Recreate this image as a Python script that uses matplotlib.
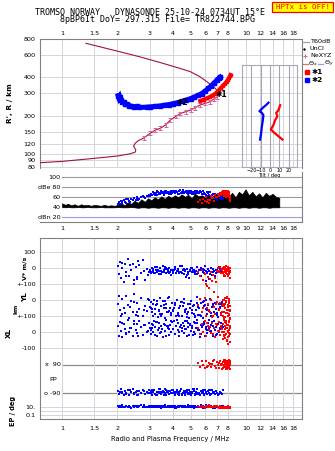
import matplotlib
matplotlib.use("Agg")
import matplotlib.pyplot as plt
import numpy as np
from matplotlib.lines import Line2D
from matplotlib.patches import Rectangle
from matplotlib.ticker import FixedLocator, NullLocator, FixedFormatter

# --- axis ticks ------------------------------------------------------------
freq_ticks = [1, 1.5, 2, 3, 4, 5, 6, 7, 8, 10, 12, 14, 16, 18]
freq_labels = ["1", "1.5", "2", "3", "4", "5", "6", "7", "8",
               "10", "12", "14", "16", "18"]
amp_freq_ticks = [1, 1.5, 2, 3, 4, 5, 6, 7, 8, 9, 10, 12, 14, 16, 18]
amp_freq_labels = ["1", "1.5", "2", "3", "4", "5", "6", "7", "8", "9",
                   "10", "12", "14", "16", "18"]
range_ticks = [80, 90, 100, 120, 150, 200, 300, 400, 600, 800]
amp_ticks = [100, 80, 60, 40, 20]
amp_labels = ["100", "dBe 80", "60", "40", "dBn 20"]
tilt_ticks = [-20, -10, 0, 10, 20]

# --- electron density profile (plasma freq MHz, true height km) ------------
prof_f = [0.76, 1.0, 1.5, 2.0, 2.35, 2.5, 2.52, 2.45, 2.5, 2.6, 2.78, 3.02,
          3.22, 3.43, 3.66, 3.89, 4.41, 5.0, 5.63, 6.39, 7.0, 7.1,
          7.05, 6.81, 6.39, 5.63, 4.97, 4.38, 3.41, 2.65, 2.07, 1.61, 1.35]
prof_h = [86, 88, 93, 97, 101, 104, 108, 116, 122, 128, 134, 146,
          155, 160, 170, 186, 209, 222, 243, 258, 283, 302,
          308, 329, 355, 405, 445, 471, 524, 580, 635, 695, 740]
err_f = [2.78, 3.02, 3.22, 3.43, 3.66, 3.89, 4.15, 4.41, 4.7, 5.0, 5.3,
         5.63, 6.0, 6.39, 6.7, 7.0]
err_h = [134, 146, 155, 160, 170, 186, 198, 209, 215, 222, 232,
         243, 250, 258, 270, 283]

# --- virtual height traces -------------------------------------------------
trace_o_f = [2.02, 2.04, 2.06, 2.09, 2.12, 2.16, 2.20, 2.25, 2.31, 2.38, 2.46,
             2.55, 2.62, 2.90, 3.00, 3.20, 3.40, 3.60, 3.80, 4.00, 4.25, 4.50,
             4.75, 5.00, 5.25, 5.50, 5.75, 6.00, 6.25, 6.50, 6.75, 7.00, 7.15,
             7.25]
trace_o_h = [288, 276, 283, 266, 259, 255, 250, 246, 241, 238, 236,
             237, 233, 234, 235, 237, 239, 242, 245, 249, 254, 260,
             266, 273, 281, 289, 299, 312, 328, 344, 364, 385, 395,
             402]
trace_x_f = [5.65, 5.90, 6.15, 6.40, 6.65, 6.90, 7.10, 7.30, 7.50, 7.70, 7.85,
             8.00, 8.10, 8.20, 8.25]
trace_x_h = [262, 268, 275, 282, 291, 302, 315, 330, 345, 358, 370,
             385, 398, 410, 418]

# --- tilt (deg) versus height ----------------------------------------------
tilt_o_deg = [-1.8, -4.5, -7.2, -11.5, -8.9, -7.2, -7.8, -8.9, -9.7, -10.8]
tilt_o_h = [254, 243, 234, 218, 212, 203, 186, 165, 146, 131]
tilt_x_deg = [10.8, 8.9, 6.5, 7.8, 5.4, 3.5, 0.8, 5.4, 10.0, 13.2]
tilt_x_h = [243, 222, 212, 199, 186, 170, 157, 146, 137, 131]

# --- receiver amplitude envelope (dB) ---------------------------------------
noise_f = [1.00, 1.04, 1.08, 1.12, 1.17, 1.22, 1.27, 1.32, 1.38, 1.44, 1.50,
           1.56, 1.63, 1.70, 1.77, 1.85, 1.93, 2.01, 2.10, 2.19, 2.28, 2.38,
           2.48, 2.59, 2.70, 2.82, 2.94, 3.06, 3.19, 3.33, 3.47, 3.62, 3.78,
           3.94, 4.11, 4.29, 4.47, 4.66, 4.86, 5.07, 5.29, 5.52, 5.76, 6.01,
           6.27, 6.54, 6.82, 7.11, 7.42, 7.74, 8.07, 8.42, 8.78, 9.16, 9.55,
           9.96, 10.39, 10.84, 11.31, 11.80, 12.31, 12.84, 13.39, 13.97, 14.57, 15.20]
noise_hi = [48, 45, 47, 44, 46, 43, 46, 44, 45, 43, 45,
            44, 43, 45, 43, 44, 43, 45, 48, 44, 50, 47,
            53, 49, 56, 51, 58, 54, 60, 56, 62, 57, 63,
            59, 64, 60, 66, 61, 65, 58, 67, 62, 64, 60,
            66, 61, 68, 63, 70, 65, 62, 69, 60, 71, 66,
            76, 64, 71, 62, 68, 60, 69, 63, 67, 61, 59]
noise_lo = [41, 40, 41, 40, 40, 41, 40, 40, 41, 40, 40,
            40, 41, 40, 40, 40, 40, 41, 40, 40, 40, 41,
            40, 39, 40, 40, 39, 40, 40, 39, 40, 40, 39,
            40, 40, 39, 40, 40, 39, 40, 40, 39, 40, 40,
            39, 40, 40, 39, 40, 40, 39, 40, 40, 39, 40,
            40, 39, 40, 40, 39, 40, 40, 39, 40, 40, 40]

# --- o-mode echoes (*2) ------------------------------------------------------
blue_f = [2.02, 2.04, 2.07, 2.10, 2.13, 2.16, 2.20, 2.24, 2.28, 2.32,
          2.37, 2.42, 2.47, 2.52, 2.57, 2.63, 2.69, 2.75, 2.82, 2.89,
          2.96, 3.02, 3.06, 3.10, 3.14, 3.18, 3.22, 3.27, 3.31, 3.36,
          3.40, 3.45, 3.50, 3.55, 3.60, 3.65, 3.70, 3.76, 3.81, 3.87,
          3.93, 3.98, 4.04, 4.10, 4.16, 4.22, 4.29, 4.35, 4.42, 4.48,
          4.55, 4.62, 4.69, 4.76, 4.83, 4.90, 4.97, 5.05, 5.12, 5.20,
          5.28, 5.36, 5.44, 5.52, 5.60, 5.69, 5.77, 5.86, 5.95, 6.04,
          6.13, 6.22, 6.31, 6.41, 6.50, 6.60, 6.70, 6.80, 6.90, 7.00,
          7.11, 7.21, 7.32, 7.43,
          3.04, 3.12, 3.20, 3.29, 3.38, 3.47, 3.57, 3.67, 3.78, 3.90,
          4.01, 4.13, 4.25, 4.38, 4.51, 4.65, 4.79, 4.94, 5.08, 5.24,
          5.40, 5.56, 5.73, 5.90, 6.08, 6.27, 6.45, 6.65, 6.85, 7.05,
          7.26, 7.48, 2.12, 2.22, 2.34, 2.45, 2.60, 2.78, 2.92, 3.08,
          3.24, 3.43, 3.62, 3.84, 4.07, 4.32, 4.58, 4.86, 5.16, 5.48,
          5.82, 6.17, 6.55, 6.95, 7.37, 4.70, 5.30, 6.00, 3.73, 2.55]
blue_v = [12, -35, 40, -60, 5, -85, 25, -20, 60, -45,
          -10, 30, -95, 8, -55, 18, -30, 50, -70, -5,
          -25, -12, -28, 5, -18, -30, 10, -22, -8, -35,
          0, -15, -26, 14, -20, -5, -32, -12, 3, -24,
          -40, -10, -18, 8, -30, -14, -2, -27, -20, 16,
          -9, -33, -16, -4, -25, -60, -12, 0, -21, -8,
          -38, -17, 6, -28, -13, -45, -3, -22, -10, -80,
          -30, -6, -19, -35, 2, -26, -15, -50, -9, -24,
          10, -18, -32, -5,
          -20, -5, -30, 8, -15, -38, -10, 2, -25, -12,
          -32, -6, -18, 12, -28, -9, -42, -16, 4, -22,
          -34, -11, -1, -27, -14, -65, -20, -7, -30, -17,
          -3, -24, 35, -50, 20, -75, 45, -15, -40, -26,
          -8, -19, 7, -31, -13, -23, -2, -36, -11, -29,
          -5, -21, -40, -9, -14, -55, -26, 15, -4, -65]
blue_yl = [-20, 30, -60, -100, 10, -45, -80, 25, -30, -110,
           -5, -70, 40, -90, -15, -55, 15, -100, -35, -65,
           5, -40, -10, -75, -95, 5, -55, -25, -105, -60,
           15, -35, -85, -5, -50, -110, -20, -70, 20, -45,
           -90, -15, -65, -30, -100, 0, -80, -50, -12, -95,
           -38, 10, -60, -88, -22, -112, -48, -6, -78, -30,
           -102, -58, 18, -42, -92, -18, -70, -108, -2, -52,
           -85, -28, -64, 8, -98, -36, -75, -15, -55, -90,
           -25, -45, -80, -10,
           -50, -20, -85, -5, -65, -100, -30, -45, 12, -78,
           -58, -18, -92, -38, -8, -70, -105, -26, -60, -88,
           -14, -48, -96, -34, 2, -68, -82, -22, -56, -104,
           -40, -74, -85, 25, -40, -10, -95, -60, 10, -52,
           -28, -86, -4, -66, -46, -100, -18, -72, -36, -90,
           -10, -62, -44, -80, -20, -55, -95, -32, -70, -75]
blue_xl = [40, -20, 65, 10, -30, 50, 20, -10, 75, 0,
           30, -25, 55, 15, -5, 70, 35, -15, 45, 5,
           60, 25, -10, 50, 5, 70, 35, -20, 15, 60,
           -5, 40, 20, -28, 55, 10, 75, 30, -15, 45,
           0, 65, 22, -8, 38, 80, 12, -25, 48, 28,
           58, -2, 18, 70, 33, -18, 52, 8, 42, 62,
           -12, 26, 74, 14, -30, 46, 36, 2, 66, 20,
           -6, 56, 30, 10, 44, -22, 68, 16, 34, 50,
           0, 24, 60, 40,
           15, 45, -15, 62, 30, 5, 52, -20, 38, 72,
           20, -8, 56, 34, 10, 68, -24, 44, 26, 4,
           60, 16, -12, 50, 32, 78, 8, 40, -18, 54,
           22, 36, 60, -5, 25, 70, -20, 45, 10, 30,
           64, -4, 46, 18, 72, 2, 38, 56, -14, 28,
           48, 12, 66, -10, 34, 20, 58, -26, 42, 50]
blue_pp = [-75, -95, -82, -66, -90, -100, -78, -88, -70, -98,
           -84, -64, -93, -80, -101, -74, -89, -68, -96, -83,
           -72, -86, -76, -98, -82, -68, -92, -101, -79, -88,
           -65, -95, -84, -73, -100, -90, -70, -83, -97, -77,
           -91, -67, -87, -99, -81, -71, -94, -85, -63, -96,
           -89, -76, -102, -83, -92, -69, -80, -98, -87, -74,
           -94, -84, -66, -90, -100, -78, -88, -72, -95, -82,
           -92, -75, -86, -99, -69, -89, -81, -96, -73, -87,
           -93, -79, -85, -97,
           -88, -72, -97, -80, -66, -93, -84, -100, -75, -90,
           -68, -95, -82, -77, -99, -86, -70, -92, -79, -64,
           -96, -85, -73, -101, -88, -69, -94, -81, -76, -98,
           -87, -71, -80, -95, -67, -90, -102, -76, -85, -70,
           -98, -83, -66, -92, -79, -100, -74, -89, -63, -94,
           -81, -97, -72, -86, -91, -78, -99, -68, -84, -73]
blue_ep = [12, 8, 15, 10, 20, 7, 11, 14, 9, 18,
           6, 13, 10, 16, 8, 12, 22, 9, 11, 7,
           14, 10, 13, 8, 16, 11, 7, 19, 12, 9,
           14, 6, 11, 15, 8, 21, 10, 13, 7, 12,
           17, 9, 11, 14, 6, 10, 18, 8, 12, 15,
           9, 13, 7, 11, 20, 10, 8, 14, 12, 6,
           16, 9, 11, 13, 8, 24, 10, 12, 7, 15,
           11, 9, 14, 8, 12, 10, 17, 6, 11, 13,
           9, 10, 7, 12,
           11, 8, 14, 9, 17, 12, 7, 10, 15, 9,
           13, 6, 11, 19, 8, 12, 10, 16, 7, 13,
           9, 11, 14, 8, 22, 10, 12, 6, 15, 9,
           11, 13, 10, 16, 7, 12, 9, 20, 8, 11,
           14, 7, 12, 9, 18, 10, 13, 8, 11, 15,
           6, 12, 9, 14, 10, 8, 17, 11, 7, 12]
blue_amp = [46, 50, 47, 53, 49, 55, 51, 48, 57, 52,
            56, 54, 59, 55, 61, 57, 60, 63, 58, 62,
            64, 63, 67, 65, 70, 66, 68, 64, 71, 67,
            69, 72, 68, 70, 66, 73, 69, 71, 67, 70,
            72, 68, 71, 69, 73, 70, 66, 72, 69, 71,
            74, 68, 70, 73, 67, 71, 69, 72, 66, 70,
            73, 69, 71, 68, 72, 70, 67, 73, 69, 65,
            71, 68, 64, 70, 62, 67, 58, 66, 61, 55,
            63, 60, 57, 62,
            66, 70, 64, 72, 68, 71, 65, 73, 69, 67,
            72, 70, 66, 74, 69, 71, 68, 73, 70, 66,
            72, 69, 71, 67, 64, 70, 60, 66, 58, 62,
            59, 56, 52, 56, 50, 58, 54, 60, 62, 65,
            69, 67, 71, 68, 72, 66, 70, 73, 68, 71,
            67, 63, 65, 60, 61, 72, 70, 66, 69, 59]

# --- x-mode echoes (*1) ------------------------------------------------------
red_f = [5.52, 5.62, 5.75, 5.85, 5.98, 6.08, 6.20, 6.32, 6.45, 6.58, 6.70, 6.82, 6.95,
         7.05, 7.15, 7.25, 7.35, 7.45, 7.52, 7.58, 7.60, 7.66, 7.70, 7.72, 7.78, 7.84,
         7.88, 7.90, 7.95, 8.00, 8.02, 8.05, 8.10, 8.14, 8.18, 8.22,
         7.40, 7.48, 7.55, 7.62, 7.68, 7.74, 7.80, 7.86, 7.92, 7.97, 8.04, 8.08,
         8.12, 8.16, 8.20, 8.24, 6.15, 6.40, 6.62, 6.88, 7.10, 7.30, 7.64, 7.82]
red_v = [-20, -45, -10, -70, -35, -95, -55, -125, -25, -80, -145, -60, -15,
         5, -15, 10, -30, -5, -20, 8, -40, -12, 0, -25, -8, 12,
         -35, -18, -3, -50, -10, 4, -22, -28, -60, 2,
         -10, 3, -28, -6, -45, 10, -18, -2, -33, 6, -14, -38,
         -7, -24, 0, -16, -110, -65, -40, -85, -20, -8, -50, -30]
red_yl = [-30, 10, -75, -50, 15, -95, -20, -60, 5, -105, -40, -85, -10,
          20, -55, -15, -90, -35, 0, -70, -110, -25, 12, -48, -80, -5,
          -62, 18, -100, -28, -42, 8, -88, -18, -58, -112,
          -70, -20, -95, 5, -45, -105, -12, -80, 15, -58, -30, -92,
          -2, -66, -115, -38, -50, -75, -100, -20, -60, -85, -35, -10]
red_xl = [30, -10, 55, 5, 70, -25, 40, 15, -5, 60, 25, -30, 45,
          10, 65, -15, 35, 0, 50, -20, 75, 20, -35, 42, -8, 58,
          -45, 28, 5, -70, 48, -22, 15, 62, -12, 36,
          20, -40, 50, 0, 65, -15, 30, -55, 45, 10, -28, 70,
          -5, 38, -62, 24, 60, 35, -10, 50, 8, 42, -18, 68]
red_pp = [100, 80, 112, 92, 70, 118, 86, 104, 76, 96, 122, 84, 108,
          90, 74, 114, 98, 66, 106, 88, 120, 94, 78, 102, 68, 110,
          86, 116, 92, 72, 104, 82, 124, 96, 64, 100,
          98, 70, 110, 86, 122, 76, 104, 92, 66, 116, 84, 100,
          74, 112, 90, 106, 80, 94, 118, 72, 102, 88, 108, 78]
red_ep = [12, 8, 18, 10, 6, 15, 9, 22, 11, 7, 14, 9, 17,
          10, 6, 13, 8, 5, 9, 7, 11, 6, 8, 4.5, 9, 7,
          5, 8, 6, 10, 4, 7, 5, 9, 6, 4,
          6, 9, 5, 8, 4, 7, 10, 5, 6, 12, 4.5, 8,
          5, 7, 4, 9, 14, 10, 8, 12, 9, 6, 7, 5]
red_amp = [50, 54, 48, 57, 52, 60, 55, 49, 62, 58, 53, 64, 60,
           66, 62, 69, 64, 71, 67, 63, 70, 72, 65, 68, 61, 71,
           66, 70, 63, 72, 67, 60, 69, 64, 52, 58,
           70, 66, 72, 68, 64, 71, 67, 73, 65, 69, 62, 70,
           66, 60, 63, 56, 50, 55, 58, 61, 64, 67, 71, 69]

BLUE = "#0000ff"
RED = "#ff0000"
MAROON = "#a0143c"
PINK = "#e0609a"
LAVENDER = "#9c9ce0"
GRID = "#d4d4dc"
FRAME = "#808080"

W, H = 335, 451
FLO, FHI = 0.759, 20.2
X_AT_1MHZ = (np.log10(1.0) - np.log10(FLO)) / (np.log10(FHI) - np.log10(FLO))

plt.rcParams["font.family"] = "DejaVu Sans"
plt.rcParams["font.size"] = 4.6

fig = plt.figure(figsize=(W / 100, H / 100), dpi=100)


def box(x0, y0, x1, y1):
    # pixel box (top-left origin) -> figure rect
    return [x0 / W, 1 - y1 / H, (x1 - x0) / W, (y1 - y0) / H]


def fxy(x, y):
    return x / W, 1 - y / H


def style_frame(ax, hide=()):
    for name, sp in ax.spines.items():
        sp.set_color(FRAME)
        sp.set_linewidth(0.8)
        if name in hide:
            sp.set_visible(False)


def freq_axis(ax, ticks, labels):
    ax.set_xscale("log")
    ax.set_xlim(FLO, FHI)
    ax.xaxis.set_major_locator(FixedLocator(ticks))
    ax.xaxis.set_major_formatter(FixedFormatter(labels))
    ax.xaxis.set_minor_locator(NullLocator())


# ---------------- range / frequency panel ----------------
ax = fig.add_axes(box(40, 39, 302, 168.1))
freq_axis(ax, freq_ticks, freq_labels)
ax.set_yscale("log")
ax.set_ylim(78, 800)
ax.yaxis.set_major_locator(FixedLocator(range_ticks))
ax.yaxis.set_major_formatter(FixedFormatter([str(t) for t in range_ticks]))
ax.yaxis.set_minor_locator(NullLocator())
ax.tick_params(axis="x", top=True, bottom=False, labeltop=True,
               labelbottom=False, length=0, pad=2)
ax.tick_params(axis="y", length=0, pad=3)
ax.grid(True, color=GRID, lw=0.7)
style_frame(ax, hide=("bottom",))

ax.plot(prof_f, prof_h, color=MAROON, lw=0.8, zorder=3)
err = np.array(err_h) * 0.035
ax.errorbar(err_f, err_h, yerr=err, fmt="none", ecolor=PINK, elinewidth=0.7,
            capsize=1.3, capthick=0.7, zorder=3)
ax.plot(trace_o_f, trace_o_h, color=BLUE, lw=3.6, marker="s", ms=2.3,
        solid_joinstyle="miter", zorder=4)
ax.plot(trace_x_f, trace_x_h, color=RED, lw=3.0, marker="s", ms=2.0, zorder=4)
ax.text(4.49, 254, "\u27312", fontsize=5.5, ha="center", va="center",
        fontweight="bold", zorder=6)
ax.text(7.35, 294, "\u27311", fontsize=5.5, ha="center", va="center",
        fontweight="bold", zorder=6)
ax.set_ylabel("R', R / km", fontsize=5.3, fontweight="bold", labelpad=8)

# ---------------- tilt inset ----------------
axt = fig.add_axes(box(241.7, 65, 296.7, 167.3))
axt.patch.set_alpha(0)
axt.set_xlim(-30.5, 28.5)
axt.set_yscale("log")
axt.set_ylim(79.6, 500)
axt.yaxis.set_major_locator(NullLocator())
axt.yaxis.set_minor_locator(NullLocator())
axt.xaxis.set_major_locator(FixedLocator(tilt_ticks))
axt.tick_params(axis="x", length=0, pad=0.8, labelsize=3.5)
axt.xaxis.grid(True, color="#a4a4b4", lw=0.8)
for sp in axt.spines.values():
    sp.set_color("#a8a8b8")
    sp.set_linewidth(0.8)
axt.plot(tilt_o_deg, tilt_o_h, color=BLUE, lw=1.6)
axt.plot(tilt_x_deg, tilt_x_h, color=RED, lw=1.6)
axt.set_xlabel("Tilt / deg", fontsize=3.7, labelpad=0)

# ---------------- amplitude panel ----------------
axa = fig.add_axes(box(40, 172, 302, 221.7))
freq_axis(axa, amp_freq_ticks, amp_freq_labels)
axa.set_ylim(11.2, 110.6)
axa.set_yticks([])
axa.tick_params(axis="x", length=0, pad=3.2)
axa.patch.set_alpha(0)
style_frame(axa, hide=("left", "top"))
for t, lab in zip(amp_ticks, amp_labels):
    axa.axhline(t, xmin=X_AT_1MHZ, color=LAVENDER if t == 20 else "#9a9a9a",
                lw=0.8, zorder=1)
    axa.text(0.985, t, lab, ha="right", va="center", fontsize=4.6)
axa.fill_between(noise_f, noise_lo, noise_hi, color="black", lw=0.5, zorder=2)
axa.scatter(blue_f, blue_amp, s=3.4, marker="s", color=BLUE, lw=0, zorder=3)
axa.scatter(red_f, red_amp, s=3.4, marker="s", color=RED, lw=0, zorder=4)

# ---------------- echo parameter panel ----------------
V0, YL0, XL0 = 151.0, 119.0, 87.0
PPX0, PPO0 = 54.3, 26.0
SCALE = 0.16  # panel px per unit (100 units -> 16 px)


def ep_pos(ep):
    return 12.6 + 4.15 * (np.log10(ep) - 1.0)


axl = fig.add_axes(box(40, 237.5, 302, 419.3))
freq_axis(axl, freq_ticks, freq_labels)
axl.set_ylim(0, 181.8)
ytk = [167, 151, 135, 119, 103, 87, 71, ep_pos(10), ep_pos(0.1)]
ylb = ["100", "0", "+-100", "0", "+-100", "0", "-100", "10.", "0.1"]
axl.yaxis.set_major_locator(FixedLocator(ytk))
axl.yaxis.set_major_formatter(FixedFormatter(ylb))
axl.tick_params(axis="y", length=0, pad=3)
axl.tick_params(axis="x", length=0, pad=5)
axl.tick_params(axis="x", which="major", top=True, direction="in",
                length=2.5, color=GRID)
axl.grid(True, color=GRID, lw=0.7)
axl.axhline(ep_pos(1), color=GRID, lw=0.7)
style_frame(axl)
for pos, lab in ((PPX0, "x  90"), (PPO0, "o -90")):
    axl.axhline(pos, xmin=X_AT_1MHZ, color="#8c8c8c", lw=0.9, zorder=1)
    axl.text(0.985, pos, lab, ha="right", va="center", fontsize=4.6)
axl.text(0.9, 39.5, "PP", ha="center", va="center", fontsize=4.6)

for f, v, yl, xl, pp, ep, col, p0 in (
        (blue_f, blue_v, blue_yl, blue_xl, blue_pp, blue_ep, BLUE, PPO0 + 90 * SCALE),
        (red_f, red_v, red_yl, red_xl, red_pp, red_ep, RED, PPX0 - 90 * SCALE)):
    f = np.asarray(f)
    kw = dict(s=3.6, marker="s", color=col, lw=0, zorder=3)
    axl.scatter(f, V0 + SCALE * np.asarray(v), **kw)
    axl.scatter(f, YL0 + SCALE * np.asarray(yl), **kw)
    axl.scatter(f, XL0 + SCALE * np.asarray(xl), **kw)
    axl.scatter(f, p0 + SCALE * np.asarray(pp), **kw)
    axl.scatter(f, ep_pos(np.asarray(ep, dtype=float)), **kw)

# side labels of the echo panel
fig.text(*fxy(25, 268), "V* m/s", rotation=90, ha="center", va="center",
         fontsize=4.6, fontweight="bold")
fig.text(*fxy(25, 296.7), "YL", rotation=90, ha="center", va="center",
         fontsize=5.2, fontweight="bold")
fig.text(*fxy(15.5, 308.5), "km", rotation=90, ha="center", va="center",
         fontsize=4.3, fontweight="bold")
fig.text(*fxy(8.5, 333), "XL", rotation=90, ha="center", va="center",
         fontsize=5.2, fontweight="bold")
fig.text(*fxy(13, 410.5), "EP / deg", rotation=90, ha="center", va="center",
         fontsize=4.8, fontweight="bold")
fig.text(*fxy(170, 439), "Radio and Plasma Frequency / MHz", ha="center",
         va="center", fontsize=4.9)

# ---------------- header ----------------
mono = "DejaVu Sans Mono"
fig.text(*fxy(150, 12.3), "TROMSO NORWAY   DYNASONDE 25-10-24 0734UT 15\u00b0E",
         ha="center", va="center", family=mono, fontsize=6.0)
fig.text(*fxy(157.5, 20), "8pBP6It DoY= 297.315 File= TR822744.BPG",
         ha="center", va="center", family=mono, fontsize=6.0)
x0, y0 = fxy(271.7, 11.7)
fig.add_artist(Rectangle((x0, y0), 61.6 / W, 10 / H, transform=fig.transFigure,
                         facecolor="#ffff00", edgecolor=RED, lw=0.9))
fig.text(*fxy(302.5, 6.9), "HPTx is OFF!", ha="center", va="center",
         family=mono, fontsize=5.4, color=RED)


# ---------------- legend (right margin) ----------------
def seg(xa, xb, y, color, lw=0.9):
    (a, yy), (b, _) = fxy(xa, y), fxy(xb, y)
    fig.add_artist(Line2D([a, b], [yy, yy], color=color, lw=lw,
                          transform=fig.transFigure))


def dot(x, y, **kw):
    a, b = fxy(x, y)
    fig.add_artist(Line2D([a], [b], lw=0, transform=fig.transFigure, **kw))


seg(302, 309, 41.7, "#a0a0a0")
fig.text(*fxy(310, 41.7), "T60dB", va="center", fontsize=4.6)
dot(304, 48.7, marker=".", ms=1.5, color="black")
fig.text(*fxy(310, 48.7), "UnCl", va="center", fontsize=4.6)
dot(305, 55.7, marker="+", ms=3.5, mew=0.7, color=PINK)
fig.text(*fxy(310, 55.7), "NeXYZ", va="center", fontsize=4.6)
seg(303, 308, 63.5, "#e07070")
fig.text(*fxy(308.5, 63.5), r"$\Theta_x$", va="center", fontsize=4.6)
seg(318, 323, 63.5, LAVENDER)
fig.text(*fxy(323.5, 63.5), r"$\Theta_y$", va="center", fontsize=4.6)
for yy, col, lab in ((72.3, RED, "\u27311"), (80, BLUE, "\u27312")):
    dot(306.7, yy, marker="s", ms=2.6, color=col)
    fig.text(*fxy(312, yy), lab, va="center", fontsize=5.3, fontweight="bold")

fig.savefig("out.png", dpi=100)
